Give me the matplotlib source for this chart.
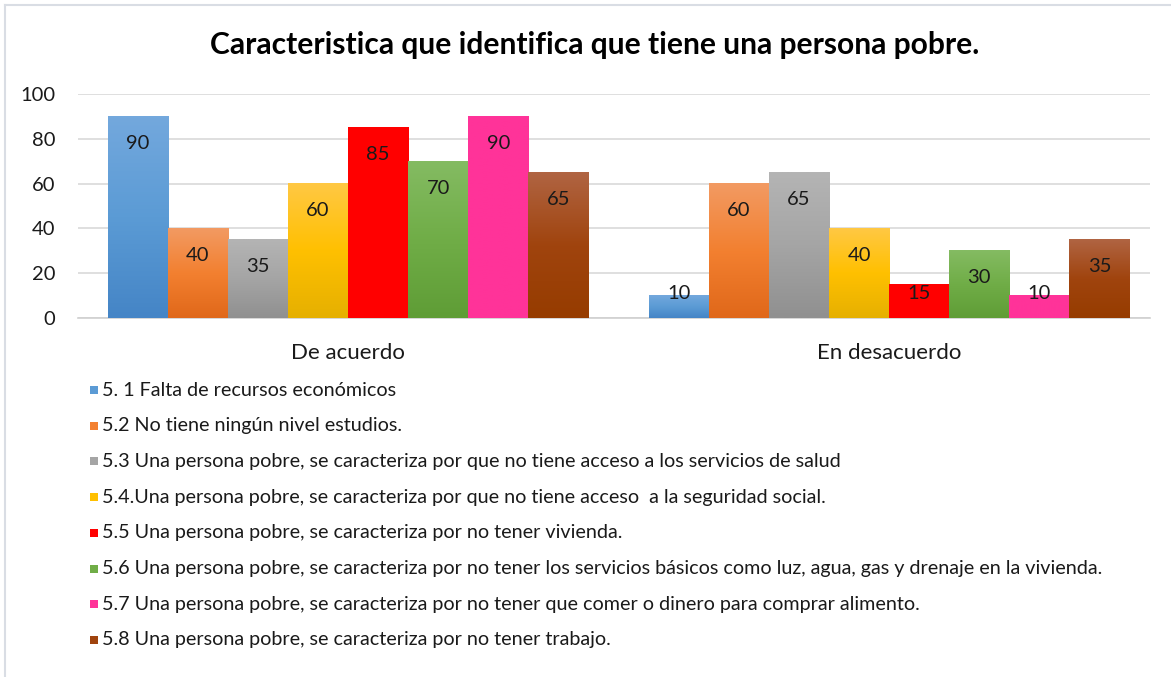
import matplotlib
matplotlib.use("Agg")
import matplotlib.pyplot as plt
import numpy as np
from matplotlib.patches import Rectangle
from matplotlib.lines import Line2D
from matplotlib.colors import to_rgb

plt.rcParams['font.family'] = ['Lato', 'DejaVu Sans']

title = "Caracteristica que identifica que tiene una persona pobre."
categories = ["De acuerdo", "En desacuerdo"]
series_labels = [
    "5. 1 Falta de recursos económicos",
    "5.2 No tiene ningún nivel estudios.",
    "5.3 Una persona pobre, se caracteriza por que no tiene acceso a los servicios de salud",
    "5.4.Una persona pobre, se caracteriza por que no tiene acceso  a la seguridad social.",
    "5.5 Una persona pobre, se caracteriza por no tener vivienda.",
    "5.6 Una persona pobre, se caracteriza por no tener los servicios básicos como luz, agua, gas y drenaje en la vivienda.",
    "5.7 Una persona pobre, se caracteriza por no tener que comer o dinero para comprar alimento.",
    "5.8 Una persona pobre, se caracteriza por no tener trabajo.",
]
values = [
    [90, 10],
    [40, 60],
    [35, 65],
    [60, 40],
    [85, 15],
    [70, 30],
    [90, 10],
    [65, 35],
]
# (top, middle, bottom) gradient colours
colors = [
    ("#73a8dd", "#5b9bd5", "#4585c6"),
    ("#f29a62", "#f38030", "#e0681a"),
    ("#b4b4b4", "#a5a5a5", "#909090"),
    ("#ffc843", "#ffc000", "#e6b000"),
    ("#ff0000", "#ff0000", "#ff0000"),
    ("#84bb62", "#70ad47", "#5f9d36"),
    ("#ff3399", "#ff3399", "#ff3399"),
    ("#b06442", "#a0440e", "#963c00"),
]
yticks = [0, 20, 40, 60, 80, 100]

W, H = 1171, 677
fig = plt.figure(figsize=(W / 100, H / 100), dpi=100)
fig.patch.set_facecolor("white")

ax = fig.add_axes([78 / W, 1 - 318 / H, (1150 - 78) / W, (318 - 94) / H])
XL = (-0.499, 1.482)

nser = len(values)
bw = 0.111
start = -bw * nser / 2
for i, (vals, col) in enumerate(zip(values, colors)):
    top, mid, bot = [np.array(to_rgb(c)) for c in col]
    n = 64
    t = np.linspace(0, 1, n)
    grad = np.zeros((n, 1, 3))
    for k, tt in enumerate(t):  # tt = 0 bottom, 1 top
        if tt < 0.5:
            grad[k, 0] = bot + (mid - bot) * (tt / 0.5)
        else:
            grad[k, 0] = mid + (top - mid) * ((tt - 0.5) / 0.5)
    for j, v in enumerate(vals):
        x0 = j + start + i * bw
        ax.imshow(grad, extent=[x0, x0 + bw, 0, v], origin="lower",
                  aspect="auto", zorder=3, interpolation="bilinear")
        ly = max(v - 12, 11)
        ax.text(x0 + bw / 2, ly, str(v), ha="center", va="center",
                fontsize=14.5, color="#1a1a1a", zorder=4)

ax.set_xlim(*XL)
ax.set_ylim(0, 100)
ax.set_yticks(yticks)
ax.set_yticklabels([str(t) for t in yticks], fontsize=14.5, color="#1a1a1a")
ax.set_xticks([0, 1])
ax.set_xticklabels(categories, fontsize=16, color="#1a1a1a")
ax.tick_params(axis="both", length=0)
ax.tick_params(axis="y", pad=16.5)
ax.tick_params(axis="x", pad=18)
ax.grid(axis="y", color="#d9d9d9", linewidth=1.2, zorder=0)
ax.set_axisbelow(True)
for s in ["left", "right", "top"]:
    ax.spines[s].set_visible(False)
ax.spines["bottom"].set_color("#d0d0d0")
ax.spines["bottom"].set_linewidth(1.2)

fig.text(595 / W, 1 - 45 / H, title, ha="center", va="center",
         fontsize=21.6, fontweight="bold", color="black")

# legend
for i, (lab, col) in enumerate(zip(series_labels, colors)):
    yc = 390 + i * 35.7
    fig.patches.append(Rectangle((90 / W, 1 - (yc + 4) / H), 8 / W, 8 / H,
                                 transform=fig.transFigure, facecolor=col[1],
                                 edgecolor="none"))
    fig.text(102 / W, 1 - yc / H, lab, ha="left", va="center",
             fontsize=14.2, color="#1a1a1a")

# chart border (left and top)
fig.lines.append(Line2D([5 / W, 5 / W], [0, 1 - 5 / H], transform=fig.transFigure,
                        color="#d9dde4", linewidth=1.5))
fig.lines.append(Line2D([5 / W, 1], [1 - 5 / H, 1 - 5 / H], transform=fig.transFigure,
                        color="#d9dde4", linewidth=1.5))

fig.savefig("out.png", dpi=100)
